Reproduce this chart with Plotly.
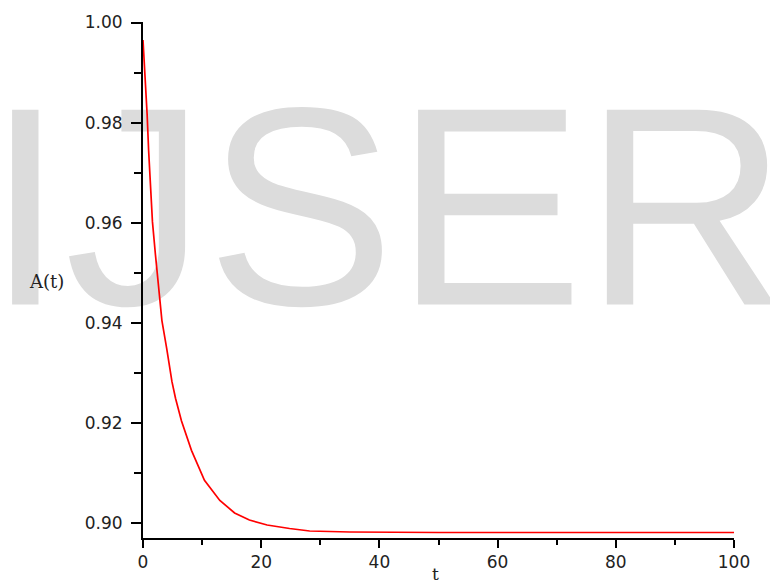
import plotly.graph_objects as go

# Data
t_values = [0, 0.4, 0.7, 0.95, 1.3, 1.6, 2.1, 2.8, 3.2, 4.0, 4.4, 4.9, 5.5, 6.5,
            8.2, 10.4, 13.0, 15.5, 18.0, 21.0, 24.8, 28.2, 35, 50, 100]
a_values = [0.9965, 0.9890, 0.9816, 0.9745, 0.9670, 0.9602, 0.9537, 0.9443, 0.9405,
            0.9350, 0.9318, 0.9283, 0.9250, 0.9205, 0.9146, 0.9086, 0.9046, 0.9021,
            0.9007, 0.8997, 0.8990, 0.8985, 0.8983, 0.8982, 0.8982]

x_ticks = [0, 20, 40, 60, 80, 100]
y_ticks = [0.90, 0.92, 0.94, 0.96, 0.98, 1.00]
y_tick_labels = ["0.90", "0.92", "0.94", "0.96", "0.98", "1.00"]
watermark = "IJSER"
y_label = "A(t)"
x_label = "t"

W, H = 770, 586
L, R, T, B = 143, 36, 19, 48
pw, ph = W - L - R, H - T - B


def px_to_paper(px, py):
    return (px - L) / pw, 1 - (py - T) / ph


fig = go.Figure()

# watermark on the bottom (hidden) axes so it sits behind the curve
wx, wy = px_to_paper(387, 232)
fig.add_trace(go.Scatter(
    x=[wx], y=[wy], mode="text", text=[watermark],
    textposition="middle center",
    textfont=dict(family="Liberation Sans", size=283, color="#DCDCDC"),
    cliponaxis=False, hoverinfo="skip", showlegend=False,
    xaxis="x", yaxis="y",
))

fig.add_trace(go.Scatter(
    x=t_values, y=a_values, mode="lines",
    line=dict(color="#FF0000", width=1.7),
    showlegend=False, xaxis="x2", yaxis="y2",
))

tick_font = dict(family="DejaVu Sans", size=17, color="#222222")

fig.update_layout(
    width=W, height=H,
    margin=dict(l=L, r=R, t=T, b=B),
    paper_bgcolor="white", plot_bgcolor="rgba(0,0,0,0)",
    xaxis=dict(range=[0, 1], visible=False, fixedrange=True),
    yaxis=dict(range=[0, 1], visible=False, fixedrange=True),
    xaxis2=dict(
        overlaying="x", range=[0, 100], tickvals=x_ticks,
        ticks="outside", ticklen=8, tickwidth=2, tickcolor="black",
        showline=True, linecolor="black", linewidth=2,
        showgrid=False, zeroline=False, tickfont=tick_font,
        minor=dict(dtick=10, tick0=0, ticks="outside", ticklen=5,
                   tickwidth=2, tickcolor="black", showgrid=False),
        anchor="y2",
    ),
    yaxis2=dict(
        overlaying="y", range=[0.8971, 1.0001], tickvals=y_ticks,
        ticktext=y_tick_labels,
        ticks="outside", ticklen=10, tickwidth=2, tickcolor="black",
        showline=True, linecolor="black", linewidth=2,
        showgrid=False, zeroline=False, tickfont=tick_font,
        ticklabelstandoff=5,
        minor=dict(dtick=0.01, tick0=0.9, ticks="outside", ticklen=7,
                   tickwidth=2, tickcolor="black", showgrid=False),
        anchor="x2",
    ),
)

lx, ly = px_to_paper(46, 280)
fig.add_annotation(x=lx, y=ly, xref="paper", yref="paper", text=y_label,
                   showarrow=False, xanchor="center", yanchor="middle",
                   font=dict(family="DejaVu Serif", size=18, color="#222222"))
tx, ty = px_to_paper(435, 586)
fig.add_annotation(x=tx, y=ty, xref="paper", yref="paper", text=x_label,
                   showarrow=False, xanchor="center", yanchor="bottom",
                   font=dict(family="DejaVu Serif", size=17, color="#222222"))

fig.write_html("out.html")
